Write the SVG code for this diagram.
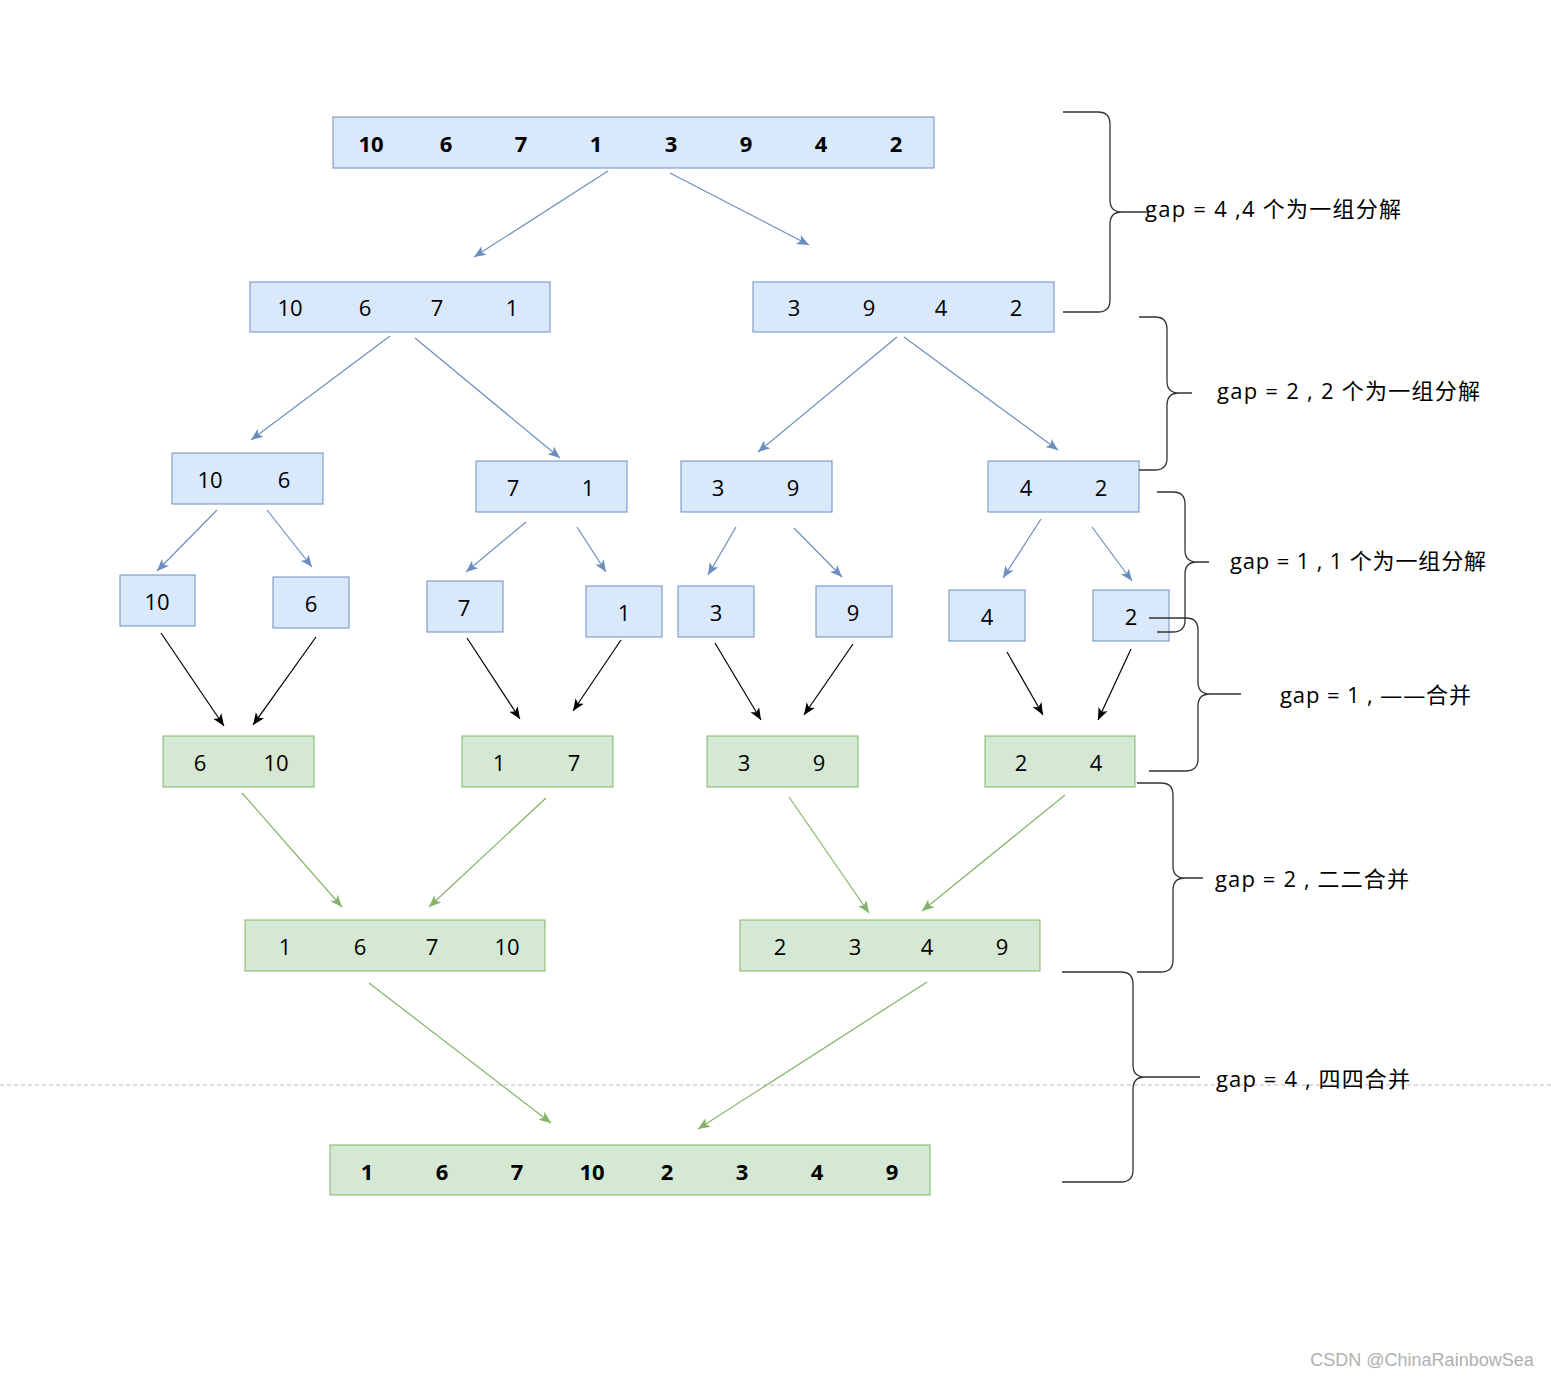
<svg xmlns="http://www.w3.org/2000/svg" width="1551" height="1377" viewBox="0 0 1551 1377">
<style>
.b{fill:#dae8fc;stroke:#6c8ebf;stroke-width:1}
.g{fill:#d5e8d4;stroke:#82b366;stroke-width:1}
.n{font-family:"Open Sans","Noto Sans","Noto Sans CJK SC",sans-serif;font-size:22px;fill:#000;text-anchor:middle;dominant-baseline:central}
.nb{font-weight:bold}
.lbl{font-family:"Open Sans","Noto Sans CJK SC",sans-serif;font-size:22px;fill:#000;dominant-baseline:central}
.ab{stroke:#6c8ebf;stroke-width:1.2;fill:none;marker-end:url(#mb)}
.ak{stroke:#000;stroke-width:1.2;fill:none;marker-end:url(#mk)}
.ag{stroke:#82b366;stroke-width:1.2;fill:none;marker-end:url(#mg)}
.br{stroke:#333;stroke-width:1.3;fill:none}
</style>
<defs>
<marker id="mb" markerUnits="userSpaceOnUse" markerWidth="12" markerHeight="12" viewBox="0 0 12 10" refX="12" refY="5" orient="auto"><path d="M0,0 L12,5 L0,10 L3,5 z" fill="#6c8ebf"/></marker>
<marker id="mk" markerUnits="userSpaceOnUse" markerWidth="12" markerHeight="12" viewBox="0 0 12 10" refX="12" refY="5" orient="auto"><path d="M0,0 L12,5 L0,10 L3,5 z" fill="#000"/></marker>
<marker id="mg" markerUnits="userSpaceOnUse" markerWidth="12" markerHeight="12" viewBox="0 0 12 10" refX="12" refY="5" orient="auto"><path d="M0,0 L12,5 L0,10 L3,5 z" fill="#82b366"/></marker>
</defs>
<rect width="1551" height="1377" fill="#fff"/>
<line x1="0" y1="1085" x2="1551" y2="1085" stroke="#bbb" stroke-width="1" stroke-dasharray="4 3"/>

<g id="connectors">
<line class="ab" x1="608" y1="171" x2="474" y2="257"/>
<line class="ab" x1="670" y1="173" x2="809" y2="245"/>
<line class="ab" x1="390" y1="336" x2="251" y2="440"/>
<line class="ab" x1="415" y1="338" x2="560" y2="458"/>
<line class="ab" x1="897" y1="337" x2="758" y2="452"/>
<line class="ab" x1="904" y1="337" x2="1058" y2="450"/>
<line class="ab" x1="217" y1="510" x2="157" y2="571"/>
<line class="ab" x1="267" y1="510" x2="312" y2="567"/>
<line class="ab" x1="526" y1="522" x2="466" y2="572"/>
<line class="ab" x1="577" y1="527" x2="606" y2="572"/>
<line class="ab" x1="736" y1="527" x2="708" y2="575"/>
<line class="ab" x1="794" y1="528" x2="842" y2="577"/>
<line class="ab" x1="1041" y1="519" x2="1003" y2="578"/>
<line class="ab" x1="1092" y1="527" x2="1132" y2="581"/>
<line class="ak" x1="161" y1="633" x2="224" y2="726"/>
<line class="ak" x1="316" y1="637" x2="253" y2="725"/>
<line class="ak" x1="467" y1="638" x2="520" y2="719"/>
<line class="ak" x1="621" y1="640" x2="573" y2="711"/>
<line class="ak" x1="715" y1="643" x2="761" y2="720"/>
<line class="ak" x1="853" y1="644" x2="804" y2="715"/>
<line class="ak" x1="1007" y1="652" x2="1043" y2="715"/>
<line class="ak" x1="1131" y1="649" x2="1098" y2="720"/>
<line class="ag" x1="242" y1="793" x2="342" y2="907"/>
<line class="ag" x1="546" y1="798" x2="429" y2="907"/>
<line class="ag" x1="789" y1="797" x2="869" y2="913"/>
<line class="ag" x1="1065" y1="795" x2="922" y2="911"/>
<line class="ag" x1="369" y1="983" x2="551" y2="1123"/>
<line class="ag" x1="927" y1="982" x2="698" y2="1129"/>
</g>

<g id="n_top"><rect class="b" x="333" y="117" width="601" height="51"/>
<text class="n nb" y="143"><tspan x="371">10</tspan><tspan x="446">6</tspan><tspan x="521">7</tspan><tspan x="596">1</tspan><tspan x="671">3</tspan><tspan x="746">9</tspan><tspan x="821">4</tspan><tspan x="896">2</tspan></text></g>

<g id="n_r2a"><rect class="b" x="250" y="282" width="300" height="50"/>
<text class="n" y="307"><tspan x="290">10</tspan><tspan x="365">6</tspan><tspan x="437">7</tspan><tspan x="512">1</tspan></text></g>
<g id="n_r2b"><rect class="b" x="753" y="282" width="301" height="50"/>
<text class="n" y="307"><tspan x="794">3</tspan><tspan x="869">9</tspan><tspan x="941">4</tspan><tspan x="1016">2</tspan></text></g>

<g id="n_r3a"><rect class="b" x="172" y="453" width="151" height="51"/>
<text class="n" y="479"><tspan x="210">10</tspan><tspan x="284">6</tspan></text></g>
<g id="n_r3b"><rect class="b" x="476" y="461" width="151" height="51"/>
<text class="n" y="487"><tspan x="513">7</tspan><tspan x="588">1</tspan></text></g>
<g id="n_r3c"><rect class="b" x="681" y="461" width="151" height="51"/>
<text class="n" y="487"><tspan x="718">3</tspan><tspan x="793">9</tspan></text></g>
<g id="n_r3d"><rect class="b" x="988" y="461" width="151" height="51"/>
<text class="n" y="487"><tspan x="1026">4</tspan><tspan x="1101">2</tspan></text></g>

<g id="n_s10"><rect class="b" x="120" y="575" width="75" height="51"/><text class="n" x="157" y="601">10</text></g>
<g id="n_s6"><rect class="b" x="273" y="577" width="76" height="51"/><text class="n" x="311" y="603">6</text></g>
<g id="n_s7"><rect class="b" x="427" y="581" width="76" height="51"/><text class="n" x="464" y="607">7</text></g>
<g id="n_s1"><rect class="b" x="586" y="586" width="76" height="51"/><text class="n" x="624" y="612">1</text></g>
<g id="n_s3"><rect class="b" x="678" y="586" width="76" height="51"/><text class="n" x="716" y="612">3</text></g>
<g id="n_s9"><rect class="b" x="816" y="586" width="76" height="51"/><text class="n" x="853" y="612">9</text></g>
<g id="n_s4"><rect class="b" x="949" y="590" width="76" height="51"/><text class="n" x="987" y="616">4</text></g>
<g id="n_s2"><rect class="b" x="1093" y="590" width="76" height="51"/><text class="n" x="1131" y="616">2</text></g>

<g id="n_m1"><rect class="g" x="163" y="736" width="151" height="51"/>
<text class="n" y="762"><tspan x="200">6</tspan><tspan x="276">10</tspan></text></g>
<g id="n_m2"><rect class="g" x="462" y="736" width="151" height="51"/>
<text class="n" y="762"><tspan x="499">1</tspan><tspan x="574">7</tspan></text></g>
<g id="n_m3"><rect class="g" x="707" y="736" width="151" height="51"/>
<text class="n" y="762"><tspan x="744">3</tspan><tspan x="819">9</tspan></text></g>
<g id="n_m4"><rect class="g" x="985" y="736" width="150" height="51"/>
<text class="n" y="762"><tspan x="1021">2</tspan><tspan x="1096">4</tspan></text></g>

<g id="n_q1"><rect class="g" x="245" y="920" width="300" height="51"/>
<text class="n" y="946"><tspan x="285">1</tspan><tspan x="360">6</tspan><tspan x="432">7</tspan><tspan x="507">10</tspan></text></g>
<g id="n_q2"><rect class="g" x="740" y="920" width="300" height="51"/>
<text class="n" y="946"><tspan x="780">2</tspan><tspan x="855">3</tspan><tspan x="927">4</tspan><tspan x="1002">9</tspan></text></g>

<g id="n_final"><rect class="g" x="330" y="1145" width="600" height="50"/>
<text class="n nb" y="1171"><tspan x="367">1</tspan><tspan x="442">6</tspan><tspan x="517">7</tspan><tspan x="592">10</tspan><tspan x="667">2</tspan><tspan x="742">3</tspan><tspan x="817">4</tspan><tspan x="892">9</tspan></text></g>

<g id="brace1"><path class="br" d="M1063 112 H1098 Q1110 112 1110 124 V200 Q1110 212 1122 212 Q1110 212 1110 224 V300 Q1110 312 1098 312 H1063 M1122 212 H1148"/>
<text class="lbl" x="1145" y="208" textLength="256" lengthAdjust="spacing">gap = 4 ,4 个为一组分解</text></g>
<g id="brace2"><path class="br" d="M1139 317 H1155 Q1167 317 1167 329 V381 Q1167 393 1179 393 Q1167 393 1167 405 V458 Q1167 470 1155 470 H1139 M1179 393 H1192"/>
<text class="lbl" x="1217" y="390" textLength="263" lengthAdjust="spacing">gap = 2 , 2 个为一组分解</text></g>
<g id="brace3"><path class="br" d="M1157 492 H1173 Q1185 492 1185 504 V550 Q1185 562 1197 562 Q1185 562 1185 574 V620 Q1185 632 1173 632 H1157 M1197 562 H1209"/>
<text class="lbl" x="1230" y="560" textLength="256" lengthAdjust="spacing">gap = 1 , 1 个为一组分解</text></g>
<g id="brace4"><path class="br" d="M1149 618 H1186 Q1198 618 1198 630 V682 Q1198 694 1210 694 Q1198 694 1198 706 V759 Q1198 771 1186 771 H1149 M1210 694 H1241"/>
<text class="lbl" x="1280" y="694" textLength="191" lengthAdjust="spacing">gap = 1 , ——合并</text></g>
<g id="brace5"><path class="br" d="M1137 783 H1161 Q1173 783 1173 795 V866 Q1173 878 1185 878 Q1173 878 1173 890 V960 Q1173 972 1161 972 H1137 M1185 878 H1203"/>
<text class="lbl" x="1215" y="878" textLength="194" lengthAdjust="spacing">gap = 2 , 二二合并</text></g>
<g id="brace6"><path class="br" d="M1062 972 H1121 Q1133 972 1133 984 V1065 Q1133 1077 1145 1077 Q1133 1077 1133 1089 V1170 Q1133 1182 1121 1182 H1062 M1145 1077 H1200"/>
<text class="lbl" x="1216" y="1078" textLength="194" lengthAdjust="spacing">gap = 4 , 四四合并</text></g>

<text x="1422" y="1360" font-family="'Liberation Sans',sans-serif" font-size="18" fill="#b0b0b0" text-anchor="middle" dominant-baseline="central">CSDN @ChinaRainbowSea</text>
</svg>
